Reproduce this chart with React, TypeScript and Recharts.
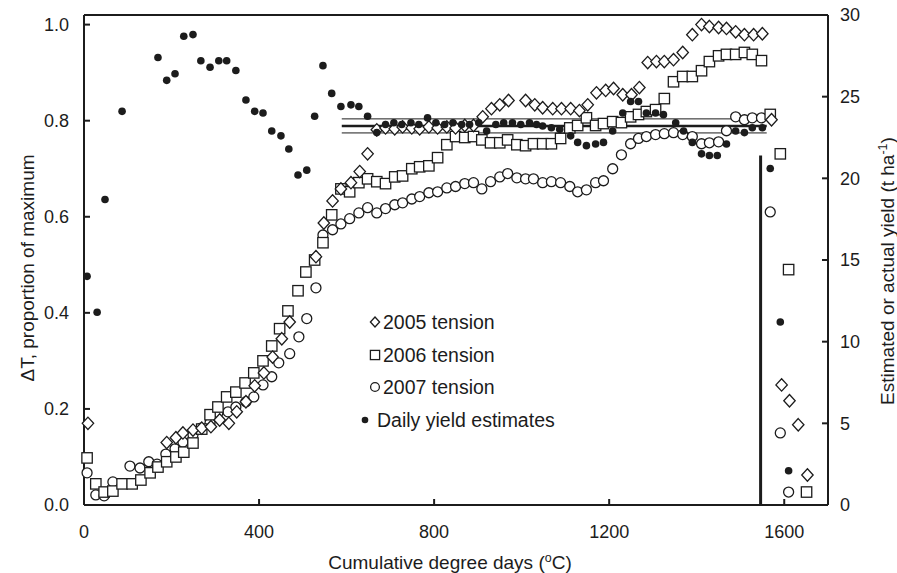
import React from "react";
import {
  ScatterChart,
  Scatter,
  XAxis,
  YAxis,
  ReferenceLine,
  Legend,
} from "recharts";

// [degree days, proportion of max ΔT]
const tension2005: [number, number][] = [
  [9, 0.17], [189, 0.13], [210, 0.14], [226, 0.15], [249, 0.156], [269, 0.16],
  [290, 0.163], [310, 0.177], [331, 0.17], [349, 0.194], [370, 0.215], [390, 0.248],
  [411, 0.275], [431, 0.308], [452, 0.346], [470, 0.381], [530, 0.517], [548, 0.587],
  [568, 0.633], [587, 0.658], [610, 0.671], [630, 0.694], [648, 0.731], [669, 0.781],
  [689, 0.785], [710, 0.783], [728, 0.787], [749, 0.785], [767, 0.783], [788, 0.787],
  [808, 0.785], [829, 0.787], [849, 0.785], [870, 0.79], [890, 0.79], [911, 0.808],
  [931, 0.825], [950, 0.833], [970, 0.842], [1009, 0.842], [1030, 0.833], [1048, 0.827],
  [1071, 0.825], [1091, 0.825], [1112, 0.825], [1132, 0.821], [1151, 0.833], [1171, 0.858],
  [1192, 0.863], [1210, 0.867], [1231, 0.854], [1251, 0.854], [1269, 0.869], [1288, 0.921],
  [1308, 0.923], [1326, 0.923], [1347, 0.927], [1368, 0.942], [1390, 0.979], [1411, 1.0],
  [1429, 0.996], [1450, 0.994], [1468, 0.992], [1489, 0.985], [1509, 0.979], [1530, 0.979],
  [1550, 0.981], [1571, 0.802], [1594, 0.25], [1612, 0.217], [1632, 0.167], [1653, 0.0625],
];

const tension2006: [number, number][] = [
  [7, 0.098], [27, 0.044], [46, 0.027], [66, 0.029], [87, 0.044], [110, 0.044],
  [130, 0.052], [151, 0.067], [169, 0.079], [189, 0.09], [210, 0.1], [228, 0.11],
  [249, 0.129], [269, 0.158], [288, 0.188], [306, 0.204], [326, 0.225], [347, 0.235],
  [368, 0.254], [388, 0.275], [409, 0.3], [429, 0.331], [447, 0.367], [466, 0.404],
  [489, 0.446], [507, 0.485], [527, 0.51], [546, 0.546], [566, 0.604], [587, 0.658],
  [607, 0.652], [628, 0.671], [648, 0.679], [669, 0.673], [689, 0.669], [710, 0.683],
  [728, 0.685], [749, 0.7], [767, 0.704], [788, 0.706], [808, 0.723], [829, 0.75],
  [849, 0.767], [870, 0.765], [890, 0.767], [909, 0.76], [929, 0.754], [950, 0.754],
  [968, 0.76], [989, 0.75], [1009, 0.748], [1027, 0.752], [1048, 0.752], [1068, 0.752],
  [1089, 0.763], [1110, 0.785], [1128, 0.79], [1148, 0.806], [1169, 0.79], [1187, 0.794],
  [1208, 0.798], [1228, 0.796], [1249, 0.808], [1267, 0.813], [1285, 0.819], [1306, 0.823],
  [1326, 0.846], [1347, 0.881], [1368, 0.892], [1390, 0.892], [1411, 0.904], [1429, 0.923],
  [1450, 0.935], [1468, 0.938], [1489, 0.938], [1509, 0.942], [1527, 0.938], [1548, 0.925],
  [1568, 0.813], [1591, 0.731], [1610, 0.49], [1651, 0.027],
];

const tension2007: [number, number][] = [
  [7, 0.067], [27, 0.021], [46, 0.019], [66, 0.048], [105, 0.081], [128, 0.077],
  [148, 0.09], [167, 0.085], [187, 0.106], [208, 0.117], [226, 0.131], [249, 0.146],
  [267, 0.16], [288, 0.171], [306, 0.192], [329, 0.194], [347, 0.204], [370, 0.215],
  [388, 0.225], [409, 0.25], [429, 0.267], [445, 0.296], [470, 0.315], [491, 0.35],
  [509, 0.388], [530, 0.452], [546, 0.562], [568, 0.573], [587, 0.585], [607, 0.596],
  [628, 0.608], [648, 0.619], [669, 0.608], [689, 0.617], [710, 0.625], [728, 0.629],
  [749, 0.637], [767, 0.642], [788, 0.65], [808, 0.652], [829, 0.66], [849, 0.663],
  [870, 0.669], [890, 0.671], [909, 0.658], [929, 0.673], [950, 0.683], [968, 0.69],
  [989, 0.681], [1009, 0.679], [1027, 0.679], [1048, 0.671], [1068, 0.673], [1089, 0.671],
  [1110, 0.663], [1128, 0.652], [1148, 0.656], [1169, 0.671], [1187, 0.675], [1208, 0.7],
  [1228, 0.729], [1249, 0.752], [1267, 0.763], [1285, 0.767], [1306, 0.771], [1326, 0.773],
  [1347, 0.775], [1368, 0.771], [1390, 0.767], [1411, 0.752], [1429, 0.754], [1450, 0.756],
  [1468, 0.779], [1489, 0.808], [1509, 0.802], [1527, 0.806], [1548, 0.806], [1568, 0.61],
  [1591, 0.15], [1610, 0.027],
];

// [degree days, t/ha]
const dailyYield: [number, number][] = [
  [7, 14.0], [30, 11.8], [48, 18.7], [87, 24.1], [169, 27.4], [189, 26.0],
  [208, 26.4], [228, 28.7], [249, 28.8], [267, 27.2], [288, 26.8], [308, 27.2],
  [326, 27.2], [347, 26.6], [370, 24.8], [390, 24.1], [409, 24.0], [429, 22.9],
  [450, 22.6], [468, 21.8], [489, 20.2], [509, 20.5], [527, 23.8], [546, 26.9],
  [566, 25.2], [587, 24.4], [610, 24.5], [628, 24.4], [648, 23.8], [669, 22.8],
  [689, 23.3], [708, 23.4], [726, 23.3], [747, 23.4], [765, 23.3], [785, 23.7],
  [804, 23.4], [824, 23.3], [843, 23.4], [863, 23.3], [881, 23.3], [902, 23.4],
  [920, 22.9], [941, 23.3], [959, 23.4], [979, 23.4], [998, 23.3], [1018, 23.4],
  [1034, 23.3], [1048, 23.2], [1068, 23.1], [1087, 23.0], [1112, 22.6], [1128, 22.2],
  [1148, 22.0], [1169, 22.1], [1187, 22.2], [1208, 22.9], [1231, 24.0], [1249, 24.7],
  [1267, 24.7], [1285, 24.0], [1306, 24.0], [1324, 23.9], [1352, 23.4], [1370, 22.9],
  [1390, 22.2], [1411, 21.5], [1429, 21.4], [1447, 21.4], [1468, 22.1], [1489, 22.9],
  [1509, 22.8], [1527, 23.1], [1550, 23.1], [1568, 20.6], [1591, 11.2], [1610, 2.1],
];

const meanYield = 23.2;
const yieldBand = [22.78, 23.64];
const bandFrom = 589;
const bandTo = 1560;
const harvestDD = 1546;
const actualYield = 21.4;

const xTicks = [0, 400, 800, 1200, 1600];
const leftTicks = [0, 0.2, 0.4, 0.6, 0.8, 1.0];
const rightTicks = [0, 5, 10, 15, 20, 25, 30];
const legendLabels = ["2005 tension", "2006 tension", "2007 tension", "Daily yield estimates"];

const FONT = '"Liberation Sans", Arial, sans-serif';
const INK = "#1c1c1c";

const toPts = (arr: [number, number][]) => arr.map(([x, y]) => ({ x, y }));

const Diamond = ({ cx, cy, s = 6.2 }: any) => (
  <path
    d={`M${cx},${cy - s}L${cx + s * 0.92},${cy}L${cx},${cy + s}L${cx - s * 0.92},${cy}Z`}
    fill="#fff"
    stroke={INK}
    strokeWidth={1.3}
  />
);
const Square = ({ cx, cy, s = 5.2 }: any) => (
  <rect x={cx - s} y={cy - s} width={s * 2} height={s * 2} fill="#fff" stroke={INK} strokeWidth={1.3} />
);
const Ring = ({ cx, cy, r = 5 }: any) => (
  <circle cx={cx} cy={cy} r={r} fill="#fff" stroke={INK} strokeWidth={1.3} />
);
const Dot = ({ cx, cy, r = 3.8 }: any) => <circle cx={cx} cy={cy} r={r} fill={INK} />;

const textProps = { fontFamily: FONT, fontSize: 18, fill: INK };
const titleProps = { ...textProps, fontSize: 19 };

const LeftTick = ({ x, y, payload }: any) => (
  <g>
    <line x1={x + 15} x2={x + 21} y1={y} y2={y} stroke={INK} strokeWidth={2} />
    <text x={x} y={y} dy="0.35em" textAnchor="end" {...textProps}>
      {Number(payload.value).toFixed(1)}
    </text>
  </g>
);
const RightTick = ({ x, y, payload }: any) => (
  <g>
    <line x1={x - 12} x2={x - 18} y1={y} y2={y} stroke={INK} strokeWidth={2} />
    <text x={x} y={y} dy="0.35em" textAnchor="start" {...textProps}>
      {payload.value}
    </text>
  </g>
);
const BottomTick = ({ x, y, payload }: any) => (
  <g>
    <line x1={x} x2={x} y1={y - 20} y2={y - 26} stroke={INK} strokeWidth={2} />
    <text x={x} y={y} dy="0.71em" textAnchor="middle" {...textProps}>
      {payload.value}
    </text>
  </g>
);

const XTitle = ({ viewBox }: any) => (
  <text x={viewBox.x + viewBox.width / 2 - 6} y={569} textAnchor="middle" {...titleProps}>
    Cumulative degree days (<tspan dy={-7} fontSize={12.5}>o</tspan>
    <tspan dy={7}>C)</tspan>
  </text>
);
const LeftTitle = () => (
  <text transform="translate(27,268) rotate(-90)" dy="0.35em" textAnchor="middle" {...titleProps}>
    ΔT, proportion of maximum
  </text>
);
const RightTitle = () => (
  <text transform="translate(887,271) rotate(-90)" dy="0.35em" textAnchor="middle" {...titleProps}>
    Estimated or actual yield (t ha<tspan dy={-7} fontSize={12.5}>-1</tspan>
    <tspan dy={7}>)</tspan>
  </text>
);

const LegendBox = () => {
  const markers = [
    <Diamond cx={20} cy={17} s={5} />,
    <Square cx={20} cy={50} s={4.6} />,
    <Ring cx={20} cy={82} r={4.4} />,
    <Dot cx={10} cy={115} r={3.3} />,
  ];
  const textX = [28, 28, 28, 22];
  return (
    <svg width={240} height={132} style={{ overflow: "visible" }}>
      {legendLabels.map((label, i) => (
        <g key={label}>
          {markers[i]}
          <text x={textX[i]} y={17 + i * 32.7} dy="0.35em" {...textProps} fontSize={19.5}>
            {label}
          </text>
        </g>
      ))}
    </svg>
  );
};

export default function App() {
  return (
    <div style={{ position: "absolute", left: 0, top: 0, width: 897, height: 573, background: "#fff" }}>
      <ScatterChart width={897} height={573} margin={{ top: 15, right: 0, bottom: 0, left: 0 }}>
        <XAxis
          type="number"
          dataKey="x"
          domain={[0, 1700]}
          ticks={xTicks}
          height={68}
          tickSize={0}
          tickMargin={20}
          tickLine={false}
          axisLine={{ stroke: INK, strokeWidth: 2 }}
          tick={<BottomTick />}
          label={<XTitle />}
        />
        <YAxis
          yAxisId="left"
          type="number"
          dataKey="y"
          domain={[0, 1.02]}
          ticks={leftTicks}
          width={84}
          tickSize={0}
          tickMargin={15}
          tickLine={false}
          axisLine={{ stroke: INK, strokeWidth: 2 }}
          tick={<LeftTick />}
          label={<LeftTitle />}
        />
        <YAxis
          yAxisId="right"
          orientation="right"
          type="number"
          dataKey="y"
          domain={[0, 30]}
          ticks={rightTicks}
          width={69}
          tickSize={0}
          tickMargin={12}
          tickLine={false}
          axisLine={{ stroke: INK, strokeWidth: 2 }}
          tick={<RightTick />}
          label={<RightTitle />}
        />
        <ReferenceLine yAxisId="right" y={30} stroke={INK} strokeWidth={2} />
        {yieldBand.map((v) => (
          <ReferenceLine
            key={v}
            yAxisId="right"
            segment={[{ x: bandFrom, y: v }, { x: bandTo, y: v }]}
            stroke={INK}
            strokeWidth={1}
          />
        ))}
        <ReferenceLine
          yAxisId="right"
          segment={[{ x: bandFrom, y: meanYield }, { x: bandTo, y: meanYield }]}
          stroke={INK}
          strokeWidth={2.6}
        />
        <ReferenceLine
          yAxisId="right"
          segment={[{ x: harvestDD, y: 0 }, { x: harvestDD, y: actualYield }]}
          stroke={INK}
          strokeWidth={3}
        />
        <Scatter yAxisId="left" data={toPts(tension2007)} shape={(p: any) => <Ring {...p} />} isAnimationActive={false} />
        <Scatter yAxisId="left" data={toPts(tension2006)} shape={(p: any) => <Square {...p} />} isAnimationActive={false} />
        <Scatter yAxisId="left" data={toPts(tension2005)} shape={(p: any) => <Diamond {...p} />} isAnimationActive={false} />
        <Scatter yAxisId="right" data={toPts(dailyYield)} shape={(p: any) => <Dot {...p} />} isAnimationActive={false} />
        <Legend
          layout="vertical"
          align="center"
          verticalAlign="middle"
          content={<LegendBox />}
          wrapperStyle={{ position: "absolute", left: 355, top: 305, width: 240, height: 132 }}
        />
      </ScatterChart>
    </div>
  );
}
